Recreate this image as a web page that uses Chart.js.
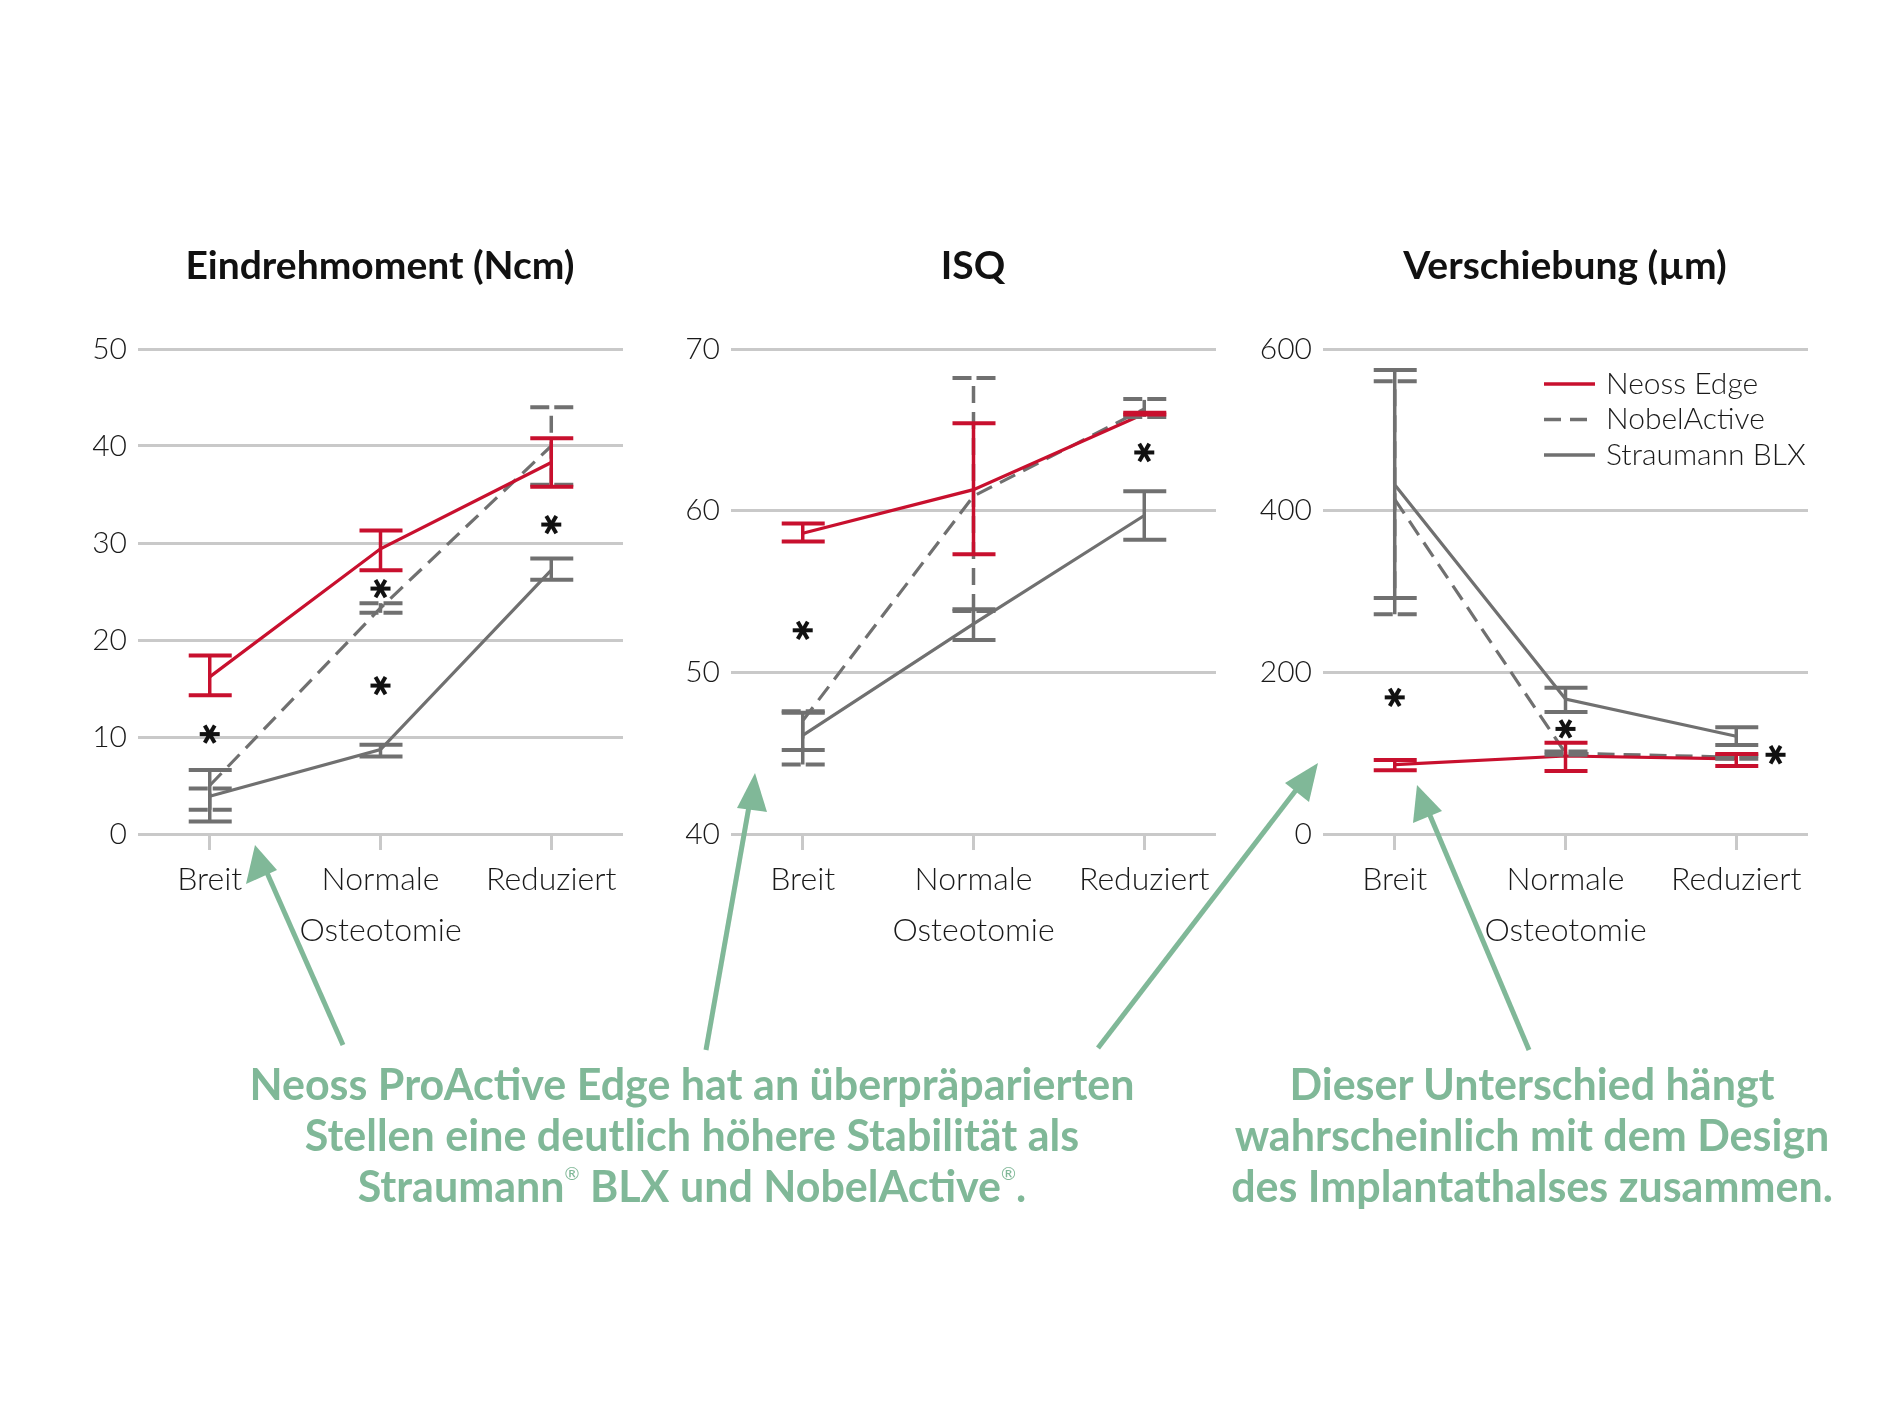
<!DOCTYPE html>
<html>
<head>
<meta charset="utf-8">
<script src="https://cdn.jsdelivr.net/npm/chart.js@4.4.1/dist/chart.umd.min.js"></script>
<style>
    html, body { margin: 0; padding: 0; background: #fff; }
    body { width: 1900px; height: 1425px; position: relative; overflow: hidden; font-family: "Lato", sans-serif; }
    canvas.panel { position: absolute; top: 200px; }
    .note { position: absolute; width: 1100px; text-align: center; color: #80b898; font-weight: 700; font-size: 43px; line-height: 51px; top: 1058px; }
    .note sup { font-size: 18px; line-height: 0; vertical-align: 22px; font-weight: 400; }
    svg { position: absolute; left: 0; top: 0; }
</style>
</head>
<body>
<canvas id="torque" class="panel" width="760" height="780" style="left:0px"></canvas>
<canvas id="isq" class="panel" width="760" height="780" style="left:593px"></canvas>
<canvas id="disp" class="panel" width="760" height="780" style="left:1185px"></canvas>

<svg width="1900" height="1425">
    <g stroke="#80b898" stroke-width="5" fill="#80b898">
        <line x1="343" y1="1045" x2="264" y2="866" />
        <polygon points="255,845 246,884 277,870" stroke="none" />
        <line x1="706" y1="1050" x2="751" y2="795" />
        <polygon points="755,773 737,808 767,812" stroke="none" />
        <line x1="1098" y1="1048" x2="1303" y2="781" />
        <polygon points="1318,763 1285,783 1309,802" stroke="none" />
        <line x1="1529" y1="1050" x2="1426" y2="806" />
        <polygon points="1417,785 1413,823 1442,811" stroke="none" />
    </g>
</svg>

<div class="note" style="left:142px">Neoss ProActive Edge hat an überpräparierten<br>Stellen eine deutlich höhere Stabilität als<br>Straumann<sup>®</sup> BLX und NobelActive<sup>®</sup>.</div>
<div class="note" style="left:982px">Dieser Unterschied hängt<br>wahrscheinlich mit dem Design<br>des Implantathalses zusammen.</div>

<script>
// categories and series
const categories = ['Breit', 'Normale', 'Reduziert'];
const seriesNames = ['Neoss Edge', 'NobelActive', 'Straumann BLX'];

// Eindrehmoment (Ncm)
const torqueNeoss = [16.2, 29.4, 38.3];
const torqueNeossLo = [14.3, 27.2, 35.8];
const torqueNeossHi = [18.4, 31.3, 40.8];
const torqueNobel = [5.0, 23.3, 40.0];
const torqueNobelLo = [2.5, 22.8, 36.0];
const torqueNobelHi = [4.7, 23.8, 44.0];
const torqueStraumann = [3.9, 8.7, 27.2];
const torqueStraumannLo = [1.3, 8.0, 26.2];
const torqueStraumannHi = [6.6, 9.2, 28.4];
const torqueStarX = [0, 1, 1, 2];
const torqueStarY = [10.3, 25.3, 15.3, 31.9];

// ISQ
const isqNeoss = [58.6, 61.3, 66.0];
const isqNeossLo = [58.1, 57.3, 65.95];
const isqNeossHi = [59.2, 65.4, 66.05];
const isqNobel = [47.0, 60.9, 66.3];
const isqNobelLo = [44.3, 53.8, 65.8];
const isqNobelHi = [47.6, 68.2, 66.9];
const isqStraumann = [46.1, 53.0, 59.7];
const isqStraumannLo = [45.2, 52.0, 58.2];
const isqStraumannHi = [47.5, 53.9, 61.2];
const isqStarX = [0, 2];
const isqStarY = [52.6, 63.6];

// Verschiebung (µm)
const dispNeoss = [85.8, 96.5, 93];
const dispNeossLo = [78.9, 78.0, 84];
const dispNeossHi = [91.5, 113, 99];
const dispNobel = [414, 100, 95];
const dispNobelLo = [272, 98, 93];
const dispNobelHi = [560, 102, 97];
const dispStraumann = [432, 167, 121];
const dispStraumannLo = [292, 151, 110];
const dispStraumannHi = [574, 181, 132];
const dispStarX = [0, 1, 2.23];
const dispStarY = [169, 130, 98];

const RED = '#c8102e';
const GRAY = '#707070';
const GRID = '#c9c9c9';
const INK = '#1a1a1a';
const DASH = [17, 9];

Chart.defaults.font.family = 'Lato';
Chart.defaults.color = INK;

// error bars with caps, drawn from each dataset's errLo / errHi
const errorBars = {
    id: 'errorBars',
    afterDatasetsDraw(chart) {
        const ctx = chart.ctx;
        const xs = chart.scales.x, ys = chart.scales.y;
        for (let i = chart.data.datasets.length - 1; i >= 0; i--) {
            const ds = chart.data.datasets[i];
            ctx.save();
            ctx.strokeStyle = ds.borderColor;
            ds.data.forEach((p, j) => {
                const x = xs.getPixelForValue(p.x);
                const yl = ys.getPixelForValue(ds.errLo[j]);
                const yh = ys.getPixelForValue(ds.errHi[j]);
                ctx.lineWidth = 3.5;
                ctx.setLineDash(ds.borderDash || []);
                ctx.beginPath();
                ctx.moveTo(x, yl);
                ctx.lineTo(x, yh);
                ctx.stroke();
                ctx.lineWidth = 4;
                ctx.setLineDash(ds.borderDash ? [19, 5] : []);
                [yl, yh].forEach(y => {
                    ctx.beginPath();
                    ctx.moveTo(x - 21, y);
                    ctx.lineTo(x + 22, y);
                    ctx.stroke();
                });
            });
            ctx.restore();
        }
    }
};

// significance asterisks
const stars = {
    id: 'stars',
    afterDatasetsDraw(chart, args, opts) {
        const ctx = chart.ctx;
        const xs = chart.scales.x, ys = chart.scales.y;
        ctx.save();
        ctx.strokeStyle = '#111';
        ctx.lineWidth = 4;
        opts.starX.forEach((sx, i) => {
            const x = xs.getPixelForValue(sx);
            const y = ys.getPixelForValue(opts.starY[i]);
            [0, 60, 120].forEach(a => {
                const r = a * Math.PI / 180;
                ctx.beginPath();
                ctx.moveTo(x - 10 * Math.cos(r), y - 10 * Math.sin(r));
                ctx.lineTo(x + 10 * Math.cos(r), y + 10 * Math.sin(r));
                ctx.stroke();
            });
        });
        ctx.restore();
    }
};

// legend inside the chart area
const lineLegend = {
    id: 'lineLegend',
    afterDraw(chart, args, opts) {
        if (!opts.show) return;
        const ctx = chart.ctx;
        const left = chart.chartArea.left + 221;
        ctx.save();
        chart.data.datasets.forEach((ds, i) => {
            const y = chart.chartArea.top + 35 + i * 35.5;
            ctx.strokeStyle = ds.borderColor;
            ctx.lineWidth = 3.5;
            ctx.setLineDash(ds.borderDash || []);
            ctx.beginPath();
            ctx.moveTo(left, y);
            ctx.lineTo(left + 51, y);
            ctx.stroke();
            ctx.fillStyle = INK;
            ctx.font = '300 30px Lato';
            ctx.textBaseline = 'middle';
            ctx.fillText(ds.label, left + 62, y);
        });
        ctx.restore();
    }
};

function points(values) {
    return values.map((v, i) => ({ x: i, y: v }));
}

function makeChart(id, title, series, yMin, yMax, yStep, starX, starY, showLegend) {
    const styles = [
        { borderColor: RED },
        { borderColor: GRAY, borderDash: DASH },
        { borderColor: GRAY }
    ];
    const datasets = series.map((s, i) => Object.assign({
        label: seriesNames[i],
        data: points(s[0]),
        errLo: s[1],
        errHi: s[2],
        borderWidth: 3.2,
        pointRadius: 0,
        tension: 0,
        fill: false
    }, styles[i]));

    return new Chart(document.getElementById(id), {
        type: 'line',
        data: { datasets },
        plugins: [errorBars, stars, lineLegend],
        options: {
            responsive: false,
            animation: false,
            layout: { padding: { top: 42.6, bottom: 30, left: 0, right: 0 } },
            plugins: {
                legend: { display: false },
                tooltip: { enabled: false },
                title: {
                    display: true,
                    text: title,
                    color: '#111',
                    font: { size: 39, weight: 'bold' },
                    padding: { top: 0, bottom: 59.6 }
                },
                stars: { starX, starY },
                lineLegend: { show: showLegend }
            },
            scales: {
                x: {
                    type: 'linear',
                    min: -0.42,
                    max: 2.42,
                    afterBuildTicks: s => { s.ticks = categories.map((c, i) => ({ value: i })); },
                    afterFit: s => { s.height = 116; },
                    grid: { drawOnChartArea: false, drawTicks: true, tickLength: 16, color: GRID, lineWidth: 3 },
                    border: { display: false },
                    ticks: {
                        callback: v => categories[v],
                        padding: 10,
                        maxRotation: 0,
                        autoSkip: false,
                        color: INK,
                        font: { size: 32, weight: 300 }
                    },
                    title: {
                        display: true,
                        text: 'Osteotomie',
                        color: INK,
                        font: { size: 32, weight: 300 },
                        padding: { top: 0, bottom: 0 }
                    }
                },
                y: {
                    min: yMin,
                    max: yMax,
                    afterFit: s => { s.width = 138; },
                    grid: { drawTicks: false, color: GRID, lineWidth: 3 },
                    border: { display: false },
                    ticks: {
                        stepSize: yStep,
                        padding: 11,
                        color: INK,
                        font: { size: 30, weight: 300 }
                    }
                },
                // empty right-hand spacer so the title centres over the plot
                spacer: {
                    type: 'linear',
                    position: 'right',
                    afterFit: s => { s.width = 137; },
                    grid: { display: false },
                    border: { display: false },
                    ticks: { display: false }
                }
            }
        }
    });
}

makeChart('torque', 'Eindrehmoment (Ncm)', [
    [torqueNeoss, torqueNeossLo, torqueNeossHi],
    [torqueNobel, torqueNobelLo, torqueNobelHi],
    [torqueStraumann, torqueStraumannLo, torqueStraumannHi]
], 0, 50, 10, torqueStarX, torqueStarY, false);

makeChart('isq', 'ISQ', [
    [isqNeoss, isqNeossLo, isqNeossHi],
    [isqNobel, isqNobelLo, isqNobelHi],
    [isqStraumann, isqStraumannLo, isqStraumannHi]
], 40, 70, 10, isqStarX, isqStarY, false);

makeChart('disp', 'Verschiebung (µm)', [
    [dispNeoss, dispNeossLo, dispNeossHi],
    [dispNobel, dispNobelLo, dispNobelHi],
    [dispStraumann, dispStraumannLo, dispStraumannHi]
], 0, 600, 200, dispStarX, dispStarY, true);
</script>
</body>
</html>
